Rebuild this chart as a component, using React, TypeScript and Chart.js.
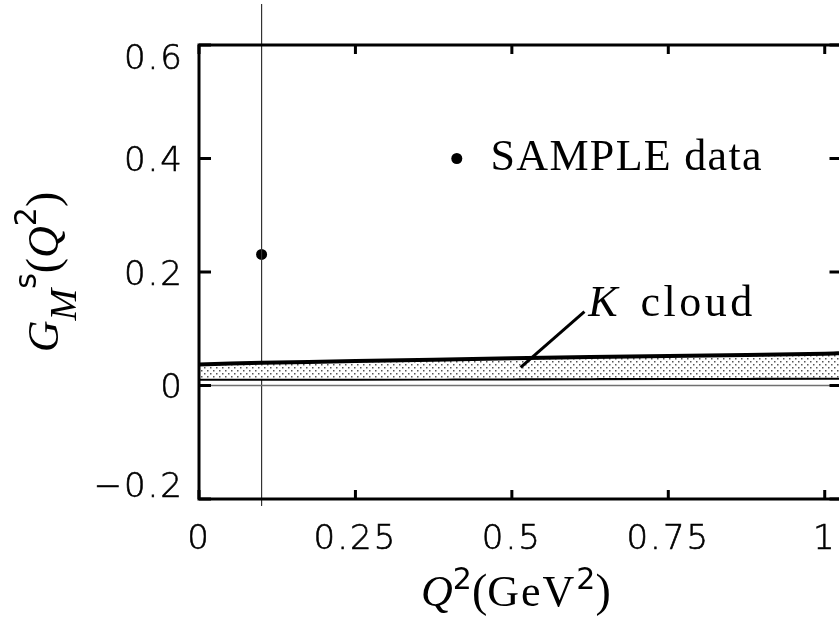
import { useEffect, useRef } from "react";
import { Chart, registerables } from "chart.js";

Chart.register(...registerables);

// ---- axis ranges and ticks ----
const X_MIN = 0;
const X_MAX = 1.03;
const Y_MIN = -0.2;
const Y_MAX = 0.6;
const X_TICKS = [0, 0.25, 0.5, 0.75, 1];
const X_TICK_LABELS = ["0", "0.25", "0.5", "0.75", "1"];
const Y_TICKS = [-0.2, 0, 0.2, 0.4, 0.6];
const Y_TICK_LABELS = ["\u22120.2", "0", "0.2", "0.4", "0.6"];

// ---- K cloud band (upper / lower edges) ----
const BAND_Q2 = [0, 0.1, 0.25, 0.5, 0.75, 1.0, 1.03];
const BAND_UPPER = [0.037, 0.04, 0.043, 0.048, 0.052, 0.056, 0.057];
const BAND_LOWER = [0.012, 0.012, 0.012, 0.0125, 0.013, 0.0135, 0.0135];

// ---- SAMPLE measurement ----
const SAMPLE_Q2 = [0.1];
const SAMPLE_GM = [0.231];

// ---- vertical marker line at the SAMPLE Q^2 ----
const MARKER_Q2 = [0.1, 0.1];
const MARKER_Y = [0.672, -0.212];

// ---- zero reference line ----
const ZERO_Q2 = [0, 1.03];
const ZERO_Y = [0, 0];

// ---- annotation anchors (data coordinates) ----
const LEGEND_DOT = { x: 0.412, y: 0.4 };
const LEGEND_TEXT = { x: 0.466, y: 0.379, text: "SAMPLE data" };
const KCLOUD_TEXT = { x: 0.622, y: 0.123 };
const KCLOUD_POINTER = { x0: 0.514, y0: 0.032, x1: 0.616, y1: 0.13 };

const SERIF = '"Liberation Serif", "DejaVu Serif", serif';
const SANS = '"DejaVu Sans", sans-serif';

function pts(xs: number[], ys: number[]) {
  return xs.map((x, i) => ({ x, y: ys[i] }));
}

function makePattern(ctx: CanvasRenderingContext2D) {
  const c = document.createElement("canvas");
  c.width = 6;
  c.height = 6;
  const g = c.getContext("2d")!;
  g.fillStyle = "#ffffff";
  g.fillRect(0, 0, 6, 6);
  g.fillStyle = "#555555";
  g.fillRect(0, 1, 1.5, 1.5);
  g.fillRect(3, 4, 1.5, 1.5);
  return ctx.createPattern(c, "repeat")!;
}

type Run = { t: string; font: string; dy: number; ls?: string };

function drawRuns(ctx: CanvasRenderingContext2D, runs: Run[], x: number, y: number, align: "center" | "left") {
  ctx.textAlign = "left";
  ctx.textBaseline = "alphabetic";
  const widths = runs.map((r) => {
    ctx.font = r.font;
    (ctx as any).letterSpacing = r.ls || "0px";
    return ctx.measureText(r.t).width;
  });
  const total = widths.reduce((a, b) => a + b, 0);
  let cx = align === "center" ? x - total / 2 : x;
  runs.forEach((r, i) => {
    ctx.font = r.font;
    (ctx as any).letterSpacing = r.ls || "0px";
    ctx.fillText(r.t, cx, y + r.dy);
    cx += widths[i];
  });
  (ctx as any).letterSpacing = "0px";
}

const framePlugin = {
  id: "frame",
  beforeDraw(chart: any) {
    (chart.ctx as any).letterSpacing = "2px";
  },
  beforeDatasetsDraw(chart: any) {
    (chart.ctx as any).letterSpacing = "0px";
  },
  afterDraw(chart: any) {
    const ctx: CanvasRenderingContext2D = chart.ctx;
    const { left, right, top, bottom } = chart.chartArea;
    const xs = chart.scales.x;
    const ys = chart.scales.y;
    ctx.save();
    (ctx as any).letterSpacing = "0px";
    ctx.strokeStyle = "#000";
    ctx.fillStyle = "#000";
    ctx.lineWidth = 3;
    ctx.lineCap = "butt";
    ctx.strokeRect(left, top, right - left, bottom - top);
    // inward ticks
    Y_TICKS.forEach((v) => {
      const py = ys.getPixelForValue(v);
      ctx.beginPath();
      ctx.moveTo(left, py);
      ctx.lineTo(left + 12, py);
      ctx.moveTo(right - 14, py);
      ctx.lineTo(right, py);
      ctx.stroke();
    });
    X_TICKS.forEach((v) => {
      const px = xs.getPixelForValue(v);
      ctx.beginPath();
      ctx.moveTo(px, bottom);
      ctx.lineTo(px, bottom - 9);
      ctx.moveTo(px, top);
      ctx.lineTo(px, top + 9);
      ctx.stroke();
    });

    // legend dot + text
    ctx.beginPath();
    ctx.arc(xs.getPixelForValue(LEGEND_DOT.x), ys.getPixelForValue(LEGEND_DOT.y), 5.5, 0, Math.PI * 2);
    ctx.fill();
    drawRuns(
      ctx,
      [{ t: LEGEND_TEXT.text, font: `44px ${SERIF}`, dy: 0, ls: "1.3px" }],
      xs.getPixelForValue(LEGEND_TEXT.x),
      ys.getPixelForValue(LEGEND_TEXT.y),
      "left"
    );

    // K cloud label + pointer
    drawRuns(
      ctx,
      [
        { t: "K", font: `italic 44px ${SERIF}`, dy: 0 },
        { t: " ", font: `44px ${SERIF}`, dy: 0, ls: "12px" },
        { t: "cloud", font: `44px ${SERIF}`, dy: 0, ls: "3.5px" },
      ],
      xs.getPixelForValue(KCLOUD_TEXT.x),
      ys.getPixelForValue(KCLOUD_TEXT.y),
      "left"
    );
    ctx.lineWidth = 3;
    ctx.beginPath();
    ctx.moveTo(xs.getPixelForValue(KCLOUD_POINTER.x0), ys.getPixelForValue(KCLOUD_POINTER.y0));
    ctx.lineTo(xs.getPixelForValue(KCLOUD_POINTER.x1), ys.getPixelForValue(KCLOUD_POINTER.y1));
    ctx.stroke();

    // x axis title
    drawRuns(
      ctx,
      [
        { t: "Q", font: `italic 44px ${SERIF}`, dy: 0 },
        { t: "2", font: `30px ${SANS}`, dy: -17 },
        { t: "(", font: `46px ${SERIF}`, dy: 0 },
        { t: "GeV", font: `44px ${SERIF}`, dy: 0, ls: "2px" },
        { t: "2", font: `30px ${SANS}`, dy: -17 },
        { t: ")", font: `46px ${SERIF}`, dy: 0 },
      ],
      xs.getPixelForValue(0.5) + 4,
      606,
      "center"
    );

    // y axis title
    ctx.save();
    ctx.translate(58, (top + bottom) / 2);
    ctx.rotate(-Math.PI / 2);
    drawRuns(
      ctx,
      [
        { t: "G", font: `italic 44px ${SERIF}`, dy: 0 },
        { t: "M", font: `italic 38px ${SERIF}`, dy: 18 },
        { t: "s", font: `30px ${SANS}`, dy: -22 },
        { t: "(", font: `46px ${SERIF}`, dy: 0 },
        { t: "Q", font: `italic 44px ${SERIF}`, dy: 0 },
        { t: "2", font: `30px ${SANS}`, dy: -22 },
        { t: ")", font: `46px ${SERIF}`, dy: 0 },
      ],
      0,
      0,
      "center"
    );
    ctx.restore();
    ctx.restore();
  },
};

export default function App() {
  const ref = useRef<HTMLCanvasElement>(null);
  useEffect(() => {
    const canvas = ref.current!;
    const ctx = canvas.getContext("2d")!;
    const pattern = makePattern(ctx);
    const tickFont = { family: SANS, size: 34, weight: 300 as any };
    const lastY = Y_TICKS.length - 1;
    const chart = new Chart(canvas, {
      type: "line",
      data: {
        datasets: [
          {
            data: pts(BAND_Q2, BAND_UPPER),
            borderColor: "#000",
            borderWidth: 4,
            pointRadius: 0,
            backgroundColor: pattern as any,
            fill: "+1",
            tension: 0.3,
          },
          {
            data: pts(BAND_Q2, BAND_LOWER),
            borderColor: "#000",
            borderWidth: 4,
            pointRadius: 0,
            fill: false,
            tension: 0.3,
          },
          {
            data: pts(ZERO_Q2, ZERO_Y),
            borderColor: "#707070",
            borderWidth: 1.5,
            pointRadius: 0,
            fill: false,
          },
          {
            data: pts(MARKER_Q2, MARKER_Y),
            borderColor: "#333",
            borderWidth: 1,
            pointRadius: 0,
            fill: false,
            clip: false as any,
          },
          {
            data: pts(SAMPLE_Q2, SAMPLE_GM),
            showLine: false,
            pointRadius: 5.5,
            pointBackgroundColor: "#000",
            pointBorderColor: "#000",
            pointBorderWidth: 0,
            fill: false,
          },
        ],
      },
      options: {
        animation: false,
        responsive: false,
        events: [],
        layout: { padding: { top: 45, right: 4, left: 0, bottom: 0 } },
        plugins: { legend: { display: false }, tooltip: { enabled: false } },
        scales: {
          x: {
            type: "linear",
            min: X_MIN,
            max: X_MAX,
            afterBuildTicks: (s: any) => {
              s.ticks = X_TICKS.map((v) => ({ value: v }));
            },
            afterFit: (s: any) => {
              s.height = 118;
              s.paddingLeft = 0;
              s.paddingRight = 0;
            },
            grid: { display: false, drawTicks: false },
            border: { display: false },
            ticks: {
              callback: (_v: any, i: number) => X_TICK_LABELS[i],
              font: tickFont,
              color: "#000",
              textStrokeColor: "#000",
              textStrokeWidth: 0.6,
              padding: 21,
              maxRotation: 0,
              autoSkip: false,
            },
          },
          y: {
            type: "linear",
            min: Y_MIN,
            max: Y_MAX,
            afterBuildTicks: (s: any) => {
              s.ticks = Y_TICKS.map((v) => ({ value: v }));
            },
            afterFit: (s: any) => {
              s.width = 199;
              s.paddingTop = 0;
              s.paddingBottom = 0;
            },
            grid: { display: false, drawTicks: false },
            border: { display: false },
            ticks: {
              // end labels sit inside the axis range, as in the reference
              callback: (_v: any, i: number) =>
                i === lastY ? ["", Y_TICK_LABELS[i]] : i === 0 ? [Y_TICK_LABELS[i], ""] : Y_TICK_LABELS[i],
              font: (c: any) => ({
                ...tickFont,
                lineHeight: c.index === lastY ? "22px" : c.index === 0 ? "30px" : 1.2,
              }),
              color: "#000",
              textStrokeColor: "#000",
              textStrokeWidth: 0.6,
              padding: 15,
              labelOffset: 4,
              autoSkip: false,
            },
          },
        },
      },
      plugins: [framePlugin],
    });
    return () => chart.destroy();
  }, []);
  return (
    <div
      style={{
        position: "absolute",
        left: 0,
        top: 0,
        width: 839,
        height: 617,
        overflow: "hidden",
        background: "#fff",
      }}
    >
      <canvas ref={ref} width={849} height={617} style={{ display: "block", width: 849, height: 617 }} />
    </div>
  );
}
